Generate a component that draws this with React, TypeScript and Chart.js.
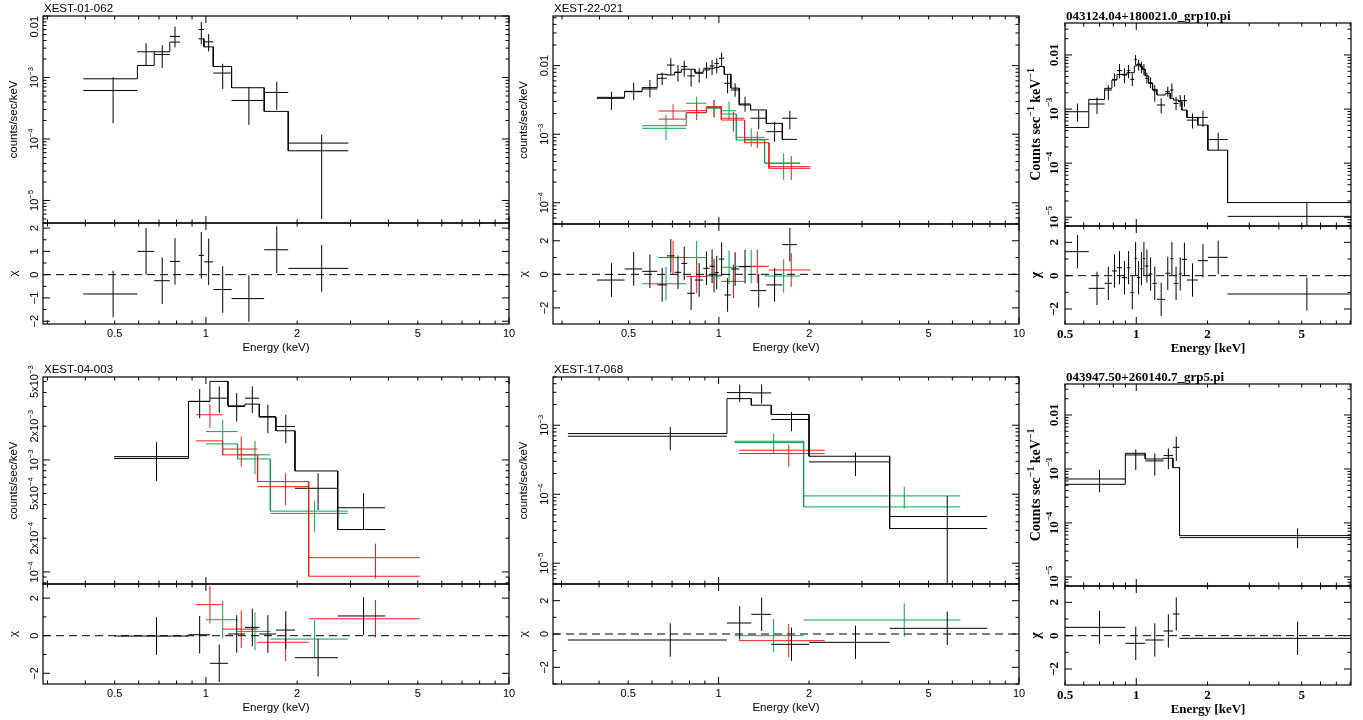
import React, { useEffect, useRef } from 'react';
import { Chart, registerables } from 'chart.js';
Chart.register(...registerables);

const BLACK = '#000000';
const RED = '#ee1c1c';
const GREEN = '#00a651';
const SANS = "'Liberation Sans', Arial, sans-serif";
const SERIF = "'Liberation Serif', 'Times New Roman', serif";

// ===== Panel 1: XEST-01-062 =====
const p1Lo = [0.394, 0.594, 0.675, 0.760, 0.946, 0.985, 1.057, 1.215, 1.557, 1.869];
const p1Hi = [0.594, 0.675, 0.760, 0.821, 0.985, 1.057, 1.215, 1.557, 1.869, 2.95];
const p1Y = [6.15e-4, 2.62e-3, 2.37e-3, 4.65e-3, 6.04e-3, 3.80e-3, 1.18e-3, 4.23e-4, 5.71e-4, 8.57e-5];
const p1YHi = [1.01e-3, 3.62e-3, 3.36e-3, 6.76e-3, 8.05e-3, 5.07e-3, 1.67e-3, 6.97e-4, 8.61e-4, 1.17e-4];
const p1YLo = [1.81e-4, 1.57e-3, 1.42e-3, 3.08e-3, 3.49e-3, 2.65e-3, 6.47e-4, 1.70e-4, 2.99e-4, 4.98e-6];
const p1Model = [9.52e-4, 1.57e-3, 2.62e-3, 3.76e-3, 4.26e-3, 3.15e-3, 1.51e-3, 6.81e-4, 2.81e-4, 6.43e-5];
const p1Res = [-0.83, 1.0, -0.26, 0.57, 0.83, 0.55, -0.64, -1.03, 1.07, 0.27];

// ===== Panel 2: XEST-22-021 =====
const p2BLo = [0.392, 0.485, 0.555, 0.623, 0.671, 0.712, 0.749, 0.784, 0.832, 0.887, 0.931, 0.967, 1.0, 1.042, 1.096, 1.169, 1.275, 1.439, 1.627];
const p2BHi = [0.485, 0.555, 0.623, 0.671, 0.712, 0.749, 0.784, 0.832, 0.887, 0.931, 0.967, 1.0, 1.042, 1.096, 1.169, 1.275, 1.439, 1.627, 1.820];
const p2BY = [3.34e-3, 4.17e-3, 4.57e-3, 6.54e-3, 1.02e-2, 8.0e-3, 9.7e-3, 7.08e-3, 7.74e-3, 9.16e-3, 9.9e-3, 1.08e-2, 1.28e-2, 5.53e-3, 4.42e-3, 2.76e-3, 1.71e-3, 1.09e-3, 1.71e-3];
const p2BYHi = [4.17e-3, 5.65e-3, 6.18e-3, 7.91e-3, 1.28e-2, 1.02e-2, 1.18e-2, 8.86e-3, 9.16e-3, 1.11e-2, 1.21e-2, 1.28e-2, 1.55e-2, 7.31e-3, 5.53e-3, 3.52e-3, 2.20e-3, 1.52e-3, 2.19e-3];
const p2BYLo = [2.26e-3, 3.15e-3, 3.45e-3, 5.22e-3, 7.31e-3, 5.84e-3, 6.92e-3, 4.93e-3, 5.65e-3, 6.54e-3, 7.31e-3, 7.74e-3, 9.9e-3, 3.95e-3, 3.52e-3, 2.13e-3, 1.18e-3, 7.78e-4, 1.18e-3];
const p2BModel = [3.45e-3, 4.22e-3, 4.78e-3, 7.48e-3, 7.31e-3, 8.0e-3, 8.86e-3, 8.86e-3, 8.0e-3, 8.66e-3, 9.16e-3, 9.36e-3, 9.7e-3, 7.48e-3, 4.7e-3, 2.67e-3, 2.26e-3, 1.44e-3, 8.41e-4];
const p2BRes = [-0.34, 0.32, 0.18, -0.63, 1.1, 0.12, 0.65, -1.13, -0.34, 0.36, 0.48, 0.1, 0.91, -1.23, 0.32, 0.46, -0.97, -0.63, 1.77];
const p2RLo = [0.629, 0.778, 0.908, 1.019, 1.218, 1.468];
const p2RHi = [0.778, 0.908, 1.019, 1.218, 1.468, 2.017];
const p2RY = [2.18e-3, 2.2e-3, 2.47e-3, 1.71e-3, 8.41e-4, 3.36e-4];
const p2RYHi = [2.73e-3, 2.9e-3, 3.15e-3, 2.13e-3, 1.09e-3, 4.81e-4];
const p2RYLo = [1.65e-3, 1.6e-3, 1.76e-3, 1.09e-3, 6.22e-4, 2.14e-4];
const p2RModel = [1.66e-3, 2.06e-3, 2.52e-3, 1.61e-3, 7.51e-4, 3.18e-4];
const p2RRes = [1.0, -0.12, -0.05, -0.42, 0.48, 0.26];
const p2GLo = [0.555, 0.778, 0.908, 1.019, 1.143, 1.420];
const p2GHi = [0.778, 0.908, 1.019, 1.143, 1.420, 1.867];
const p2GY = [1.22e-3, 2.83e-3, 2.47e-3, 2.20e-3, 9.0e-4, 3.76e-4];
const p2GYHi = [1.91e-3, 3.53e-3, 3.15e-3, 2.99e-3, 1.22e-3, 5.26e-4];
const p2GYLo = [8.22e-4, 2.02e-3, 1.76e-3, 1.61e-3, 6.58e-4, 2.14e-4];
const p2GModel = [1.33e-3, 2.06e-3, 2.39e-3, 1.97e-3, 8.22e-4, 3.80e-4];
const p2GRes = [-0.56, 1.0, -0.1, 0.42, 0.46, -0.1];

// ===== Panel 3: 043124.04+180021.0_grp10.pi =====
const p3Lo = [0.5, 0.630, 0.735, 0.789, 0.829, 0.870, 0.913, 0.943, 0.981, 1.006, 1.040, 1.063, 1.091, 1.127, 1.172, 1.222, 1.326, 1.391, 1.437, 1.508, 1.558, 1.636, 1.820, 2.006, 2.43];
const p3Hi = [0.630, 0.735, 0.789, 0.829, 0.870, 0.913, 0.943, 0.981, 1.006, 1.040, 1.063, 1.091, 1.127, 1.172, 1.222, 1.326, 1.391, 1.437, 1.508, 1.558, 1.636, 1.820, 2.006, 2.43, 8.08];
const p3Y = [8.93e-4, 1.24e-3, 2.25e-3, 3.54e-3, 5.13e-3, 4.38e-3, 5.13e-3, 3.54e-3, 8.3e-3, 6.53e-3, 6.08e-3, 5.43e-3, 3.70e-3, 3.07e-3, 2.19e-3, 1.19e-3, 2.10e-3, 2.25e-3, 1.27e-3, 1.43e-3, 1.43e-3, 6.25e-4, 7.01e-4, 2.74e-4, 1.04e-5];
const p3YHi = [1.27e-3, 1.64e-3, 2.78e-3, 4.57e-3, 6.81e-3, 5.67e-3, 6.53e-3, 4.57e-3, 1.0e-2, 8.08e-3, 7.53e-3, 6.81e-3, 4.71e-3, 3.85e-3, 2.78e-3, 1.58e-3, 2.59e-3, 2.99e-3, 1.69e-3, 1.82e-3, 1.82e-3, 8.32e-4, 9.31e-4, 3.65e-4, 1.87e-5];
const p3YLo = [5.82e-4, 8.08e-4, 1.47e-3, 2.59e-3, 3.70e-3, 2.99e-3, 3.70e-3, 2.67e-3, 6.53e-3, 5.13e-3, 4.57e-3, 4.26e-3, 2.99e-3, 2.42e-3, 1.37e-3, 8.32e-4, 1.69e-3, 1.64e-3, 9.58e-4, 1.10e-3, 1.10e-3, 4.38e-4, 4.71e-4, 1.74e-4, 3e-6];
const p3Model = [4.57e-4, 1.51e-3, 2.42e-3, 3.44e-3, 4.38e-3, 4.26e-3, 4.71e-3, 4.71e-3, 6.26e-3, 6.81e-3, 6.08e-3, 5.43e-3, 4.09e-3, 2.99e-3, 2.31e-3, 1.82e-3, 1.95e-3, 1.58e-3, 1.47e-3, 1.37e-3, 9.58e-4, 7.01e-4, 5.06e-4, 1.74e-4, 1.87e-5];
const p3Res = [1.44, -0.76, -0.46, 0.28, 0.48, -0.12, 0.48, -1.02, 1.02, -0.12, 0.42, 1.02, 0.58, 0.1, -0.46, -1.42, 0.14, 1.02, -0.46, 0.1, 0.98, -0.26, 0.9, 1.1, -1.1];

// ===== Panel 4: XEST-04-003 =====
const p4BLo = [0.498, 0.876, 1.031, 1.182, 1.345, 1.500, 1.702, 1.967, 2.722];
const p4BHi = [0.876, 1.031, 1.182, 1.345, 1.500, 1.702, 1.967, 2.722, 3.902];
const p4BY = [1.07e-3, 3.33e-3, 3.56e-3, 3.0e-3, 3.56e-3, 2.44e-3, 1.99e-3, 5.58e-4, 3.74e-4];
const p4BYHi = [1.44e-3, 4.29e-3, 4.53e-3, 3.95e-3, 4.53e-3, 3.11e-3, 2.53e-3, 7.60e-4, 5.03e-4];
const p4BYLo = [6.49e-4, 2.36e-3, 2.62e-3, 2.20e-3, 2.62e-3, 1.73e-3, 1.41e-3, 3.57e-4, 2.41e-4];
const p4BModel = [1.03e-3, 3.33e-3, 5.03e-3, 3.04e-3, 3.15e-3, 2.41e-3, 1.82e-3, 7.97e-4, 2.39e-4];
const p4BRes = [-0.02, 0.05, -1.47, 0.09, 0.44, 0.09, 0.3, -1.17, 1.05];
const p4RLo = [0.927, 1.135, 1.481, 2.183];
const p4RHi = [1.135, 1.481, 2.183, 5.07];
const p4RY = [2.53e-3, 1.25e-3, 5.77e-4, 1.34e-4];
const p4RYHi = [3.15e-3, 1.62e-3, 7.60e-4, 1.79e-4];
const p4RYLo = [1.92e-3, 8.71e-4, 3.95e-4, 8.72e-5];
const p4RModel = [1.48e-3, 1.11e-3, 6.40e-4, 9.15e-5];
const p4RRes = [1.65, 0.35, -0.35, 0.9];
const p4GLo = [1.0, 1.272, 1.631];
const p4GHi = [1.272, 1.631, 2.937];
const p4GY = [1.79e-3, 1.11e-3, 3.33e-4];
const p4GYHi = [2.28e-3, 1.48e-3, 4.30e-4];
const p4GYLo = [1.41e-3, 7.44e-4, 2.28e-4];
const p4GModel = [1.39e-3, 1.02e-3, 3.49e-4];
const p4GRes = [0.85, 0.23, -0.18];

// ===== Panel 5: XEST-17-068 =====
const p5BLo = [0.315, 1.066, 1.285, 1.497, 2.0, 3.71];
const p5BHi = [1.066, 1.285, 1.497, 2.0, 3.71, 7.83];
const p5BY = [6.93e-4, 2.97e-3, 2.94e-3, 1.21e-3, 2.94e-4, 4.75e-5];
const p5BYHi = [9.46e-4, 3.88e-3, 3.88e-3, 1.56e-3, 4.02e-4, 9.4e-5];
const p5BYLo = [4.34e-4, 2.18e-3, 2.06e-3, 8.19e-4, 1.84e-4, 1e-6];
const p5BModel = [7.57e-4, 2.43e-3, 1.95e-3, 1.43e-3, 3.55e-4, 3.18e-5];
const p5BRes = [-0.36, 0.66, 1.18, -0.62, -0.5, 0.34];
const p5RLo = [1.169];
const p5RHi = [2.254];
const p5RY = [3.88e-4];
const p5RYHi = [5.24e-4];
const p5RYLo = [2.49e-4];
const p5RModel = [4.34e-4];
const p5RRes = [-0.4];
const p5GLo = [1.130, 1.919];
const p5GHi = [1.919, 6.38];
const p5GY = [5.61e-4, 9.46e-5];
const p5GYHi = [7.57e-4, 1.28e-4];
const p5GYLo = [3.88e-4, 6.2e-5];
const p5GModel = [5.86e-4, 6.55e-5];
const p5GRes = [-0.1, 0.84];

// ===== Panel 6: 043947.50+260140.7_grp5.pi =====
const p6Lo = [0.5, 0.899, 1.091, 1.304, 1.428, 1.523];
const p6Hi = [0.899, 1.091, 1.304, 1.428, 1.523, 8.08];
const p6Y = [6.53e-4, 1.82e-3, 1.41e-3, 1.77e-3, 2.52e-3, 5.35e-5];
const p6YHi = [9.58e-4, 2.31e-3, 1.95e-3, 2.41e-3, 3.97e-3, 7.96e-5];
const p6YLo = [3.70e-4, 9.58e-4, 7.52e-4, 9.86e-4, 1.41e-3, 3.40e-5];
const p6Model = [5.20e-4, 1.95e-3, 1.53e-3, 1.58e-3, 1.06e-3, 5.83e-5];
const p6Res = [0.5, -0.46, -0.26, 0.28, 1.3, -0.16];

// ===== Tick labels =====
const yTicks4 = [1e-5, 1e-4, 1e-3, 1e-2];
const yLabels4 = ['10^{−5}', '10^{−4}', '10^{−3}', '0.01'];
const yTicksP2 = [1e-4, 1e-3, 1e-2];
const yLabelsP2 = ['10^{−4}', '10^{−3}', '0.01'];
const yTicksP4 = [1e-4, 2e-4, 5e-4, 1e-3, 2e-3, 5e-3];
const yLabelsP4 = ['10^{−4}', '2x10^{−4}', '5x10^{−4}', '10^{−3}', '2x10^{−3}', '5x10^{−3}'];
const yTicksP5 = [1e-5, 1e-4, 1e-3];
const yLabelsP5 = ['10^{−5}', '10^{−4}', '10^{−3}'];
const resTicks1 = [-2, -1, 0, 1, 2];
const resLabels1 = ['−2', '−1', '0', '1', '2'];
const resTicks2 = [-2, 0, 2];
const resLabels2 = ['−2', '0', '2'];
const xTicksWide = [0.5, 1, 2, 5, 10];
const xLabelsWide = ['0.5', '1', '2', '5', '10'];
const xTicksNarrow = [0.5, 1, 2, 5];
const xLabelsNarrow = ['0.5', '1', '2', '5'];

type Series = { lo: number[]; hi: number[]; y: number[]; yLo: number[]; yHi: number[]; model: number[]; res: number[]; color: string };
type Panel = {
  title: string; serif: boolean;
  l: number; t: number; mid: number; r: number; b: number;
  xMin: number; xMax: number; yMin: number; yMax: number; rMin: number; rMax: number;
  yTicks: number[]; yLabels: string[];
  rTicks: number[]; rLabels: string[]; rMinor: number;
  xTicks: number[]; xLabels: string[];
  yTitle: string; xTitle: string;
  series: Series[];
};

const S = (lo: number[], hi: number[], y: number[], yLo: number[], yHi: number[], model: number[], res: number[], color: string): Series =>
  ({ lo, hi, y, yLo, yHi, model, res, color });

const PANELS: Panel[] = [
  {
    title: 'XEST-01-062', serif: false, l: 43, t: 16, mid: 223, r: 509, b: 324,
    xMin: 0.29, xMax: 10, yMin: 4.3e-6, yMax: 0.01, rMin: -2.12, rMax: 2.22,
    yTicks: yTicks4, yLabels: yLabels4, rTicks: resTicks1, rLabels: resLabels1, rMinor: 0.5,
    xTicks: xTicksWide, xLabels: xLabelsWide, yTitle: 'counts/sec/keV', xTitle: 'Energy (keV)',
    series: [S(p1Lo, p1Hi, p1Y, p1YLo, p1YHi, p1Model, p1Res, BLACK)],
  },
  {
    title: 'XEST-22-021', serif: false, l: 553, t: 16, mid: 224, r: 1019, b: 324,
    xMin: 0.28, xMax: 10, yMin: 4.9e-5, yMax: 0.053, rMin: -2.96, rMax: 3.0,
    yTicks: yTicksP2, yLabels: yLabelsP2, rTicks: resTicks2, rLabels: resLabels2, rMinor: 1,
    xTicks: xTicksWide, xLabels: xLabelsWide, yTitle: 'counts/sec/keV', xTitle: 'Energy (keV)',
    series: [
      S(p2BLo, p2BHi, p2BY, p2BYLo, p2BYHi, p2BModel, p2BRes, BLACK),
      S(p2RLo, p2RHi, p2RY, p2RYLo, p2RYHi, p2RModel, p2RRes, RED),
      S(p2GLo, p2GHi, p2GY, p2GYLo, p2GYHi, p2GModel, p2GRes, GREEN),
    ],
  },
  {
    title: '043124.04+180021.0_grp10.pi', serif: true, l: 1065, t: 23, mid: 226, r: 1351, b: 324,
    xMin: 0.5, xMax: 8.07, yMin: 6.9e-6, yMax: 0.039, rMin: -2.9, rMax: 2.98,
    yTicks: yTicks4, yLabels: yLabels4, rTicks: resTicks2, rLabels: resLabels2, rMinor: 1,
    xTicks: xTicksNarrow, xLabels: xLabelsNarrow, yTitle: 'Counts sec^{−1} keV^{−1}', xTitle: 'Energy [keV]',
    series: [S(p3Lo, p3Hi, p3Y, p3YLo, p3YHi, p3Model, p3Res, BLACK)],
  },
  {
    title: 'XEST-04-003', serif: false, l: 43, t: 377, mid: 584, r: 509, b: 684,
    xMin: 0.29, xMax: 10, yMin: 7.8e-5, yMax: 5.5e-3, rMin: -2.57, rMax: 2.75,
    yTicks: yTicksP4, yLabels: yLabelsP4, rTicks: resTicks2, rLabels: resLabels2, rMinor: 1,
    xTicks: xTicksWide, xLabels: xLabelsWide, yTitle: 'counts/sec/keV', xTitle: 'Energy (keV)',
    series: [
      S(p4BLo, p4BHi, p4BY, p4BYLo, p4BYHi, p4BModel, p4BRes, BLACK),
      S(p4RLo, p4RHi, p4RY, p4RYLo, p4RYHi, p4RModel, p4RRes, RED),
      S(p4GLo, p4GHi, p4GY, p4GYLo, p4GYHi, p4GModel, p4GRes, GREEN),
    ],
  },
  {
    title: 'XEST-17-068', serif: false, l: 553, t: 377, mid: 584, r: 1019, b: 684,
    xMin: 0.281, xMax: 10, yMin: 5e-6, yMax: 5e-3, rMin: -3.0, rMax: 3.0,
    yTicks: yTicksP5, yLabels: yLabelsP5, rTicks: resTicks2, rLabels: resLabels2, rMinor: 1,
    xTicks: xTicksWide, xLabels: xLabelsWide, yTitle: 'counts/sec/keV', xTitle: 'Energy (keV)',
    series: [
      S(p5BLo, p5BHi, p5BY, p5BYLo, p5BYHi, p5BModel, p5BRes, BLACK),
      S(p5RLo, p5RHi, p5RY, p5RYLo, p5RYHi, p5RModel, p5RRes, RED),
      S(p5GLo, p5GHi, p5GY, p5GYLo, p5GYHi, p5GModel, p5GRes, GREEN),
    ],
  },
  {
    title: '043947.50+260140.7_grp5.pi', serif: true, l: 1065, t: 384, mid: 586, r: 1351, b: 685,
    xMin: 0.5, xMax: 8.07, yMin: 6.8e-6, yMax: 0.0375, rMin: -2.96, rMax: 2.98,
    yTicks: yTicks4, yLabels: yLabels4, rTicks: resTicks2, rLabels: resLabels2, rMinor: 1,
    xTicks: xTicksNarrow, xLabels: xLabelsNarrow, yTitle: 'Counts sec^{−1} keV^{−1}', xTitle: 'Energy [keV]',
    series: [S(p6Lo, p6Hi, p6Y, p6YLo, p6YHi, p6Model, p6Res, BLACK)],
  },
];

// ===== helpers =====
type Pt = { x: number; y: number | null };
function crossPoints(lo: number[], hi: number[], yc: number[], yl: number[], yh: number[]): Pt[] {
  const pts: Pt[] = [];
  for (let i = 0; i < lo.length; i++) {
    const xc = (lo[i] + hi[i]) / 2;
    pts.push({ x: lo[i], y: yc[i] }, { x: hi[i], y: yc[i] }, { x: hi[i], y: null });
    pts.push({ x: xc, y: yl[i] }, { x: xc, y: yh[i] }, { x: xc, y: null });
  }
  return pts;
}
function stepPoints(lo: number[], hi: number[], m: number[]): Pt[] {
  const pts: Pt[] = [];
  for (let i = 0; i < lo.length; i++) {
    pts.push({ x: lo[i], y: m[i] }, { x: hi[i], y: m[i] });
    if (i + 1 < lo.length && Math.abs(lo[i + 1] - hi[i]) > 1e-9) pts.push({ x: hi[i], y: null });
  }
  return pts;
}
function logTicks(min: number, max: number) {
  const out: { v: number; major: boolean }[] = [];
  for (let e = Math.floor(Math.log10(min)); e <= Math.ceil(Math.log10(max)); e++) {
    for (let m = 1; m <= 9; m++) {
      const v = m * Math.pow(10, e);
      if (v >= min * 0.999 && v <= max * 1.001) out.push({ v, major: m === 1 });
    }
  }
  return out;
}
function linTicks(min: number, max: number, step: number, majors: number[]) {
  const out: { v: number; major: boolean }[] = [];
  for (let v = Math.ceil(min / step) * step; v <= max + 1e-9; v += step) {
    out.push({ v, major: majors.some((m) => Math.abs(m - v) < 1e-6) });
  }
  return out;
}
function parseRich(s: string) {
  const out: { t: string; sup: boolean }[] = [];
  const re = /\^\{([^}]*)\}/g;
  let last = 0;
  let m: RegExpExecArray | null;
  while ((m = re.exec(s))) {
    if (m.index > last) out.push({ t: s.slice(last, m.index), sup: false });
    out.push({ t: m[1], sup: true });
    last = re.lastIndex;
  }
  if (last < s.length) out.push({ t: s.slice(last), sup: false });
  return out;
}
function fontOf(size: number, fam: string, wt: string) {
  return `${wt} ${size}px ${fam}`;
}
function measureRich(ctx: CanvasRenderingContext2D, s: string, size: number, fam: string, wt: string) {
  let w = 0;
  for (const seg of parseRich(s)) {
    ctx.font = fontOf(seg.sup ? size * 0.7 : size, fam, wt);
    w += ctx.measureText(seg.t).width;
  }
  return w;
}
function drawRich(ctx: CanvasRenderingContext2D, s: string, x: number, y: number, size: number, fam: string, wt: string,
  align: 'left' | 'center', baseline: 'middle' | 'alphabetic') {
  const w = measureRich(ctx, s, size, fam, wt);
  let cx = align === 'center' ? x - w / 2 : x;
  const by = baseline === 'middle' ? y + size * 0.36 : y;
  ctx.textAlign = 'left';
  ctx.textBaseline = 'alphabetic';
  for (const seg of parseRich(s)) {
    ctx.font = fontOf(seg.sup ? size * 0.7 : size, fam, wt);
    ctx.fillText(seg.t, cx, seg.sup ? by - size * 0.45 : by);
    cx += ctx.measureText(seg.t).width;
  }
}

function makeFramePlugin(p: Panel, kind: 'spec' | 'res') {
  return {
    id: 'frame_' + kind,
    afterDatasetsDraw(chart: any) {
      const ctx = chart.ctx as CanvasRenderingContext2D;
      const { left, right, top, bottom } = chart.chartArea;
      const xs = chart.scales.x;
      const ys = chart.scales.y;
      const fam = p.serif ? SERIF : SANS;
      const wt = p.serif ? 'bold' : 'normal';
      const tickSize = p.serif ? 13 : 11;
      const ttlSize = p.serif ? 13 : 11.5;
      const yTtlSize = p.serif ? 14 : 11.5;
      ctx.save();
      ctx.setLineDash([]);
      ctx.strokeStyle = '#000';
      ctx.fillStyle = '#000';
      ctx.lineWidth = 1;
      const MAJ = 7, MIN = 3.5;
      ctx.beginPath();
      for (const tk of logTicks(p.xMin, p.xMax)) {
        const px = xs.getPixelForValue(tk.v);
        if (px < left - 0.5 || px > right + 0.5) continue;
        const len = tk.major ? MAJ : MIN;
        ctx.moveTo(px, bottom); ctx.lineTo(px, bottom - len);
        ctx.moveTo(px, top); ctx.lineTo(px, top + len);
      }
      const yt = kind === 'spec' ? logTicks(p.yMin, p.yMax) : linTicks(p.rMin, p.rMax, p.rMinor, p.rTicks);
      for (const tk of yt) {
        const py = ys.getPixelForValue(tk.v);
        if (py < top - 0.5 || py > bottom + 0.5) continue;
        const len = tk.major ? MAJ : MIN;
        ctx.moveTo(left, py); ctx.lineTo(left + len, py);
        ctx.moveTo(right, py); ctx.lineTo(right - len, py);
      }
      ctx.stroke();
      ctx.lineWidth = 1.2;
      ctx.strokeRect(left, top, right - left, bottom - top);

      // y tick labels (rotated)
      const gap = p.serif ? 7 : 5.5;
      const vals = kind === 'spec' ? p.yTicks : p.rTicks;
      const labs = kind === 'spec' ? p.yLabels : p.rLabels;
      vals.forEach((v, i) => {
        let py = ys.getPixelForValue(v);
        const w = measureRich(ctx, labs[i], tickSize, fam, wt);
        if (py <= top + 1) py = top + w / 2;
        ctx.save();
        ctx.translate(left - gap, py);
        ctx.rotate(-Math.PI / 2);
        drawRich(ctx, labs[i], 0, 0, tickSize, fam, wt, 'center', 'alphabetic');
        ctx.restore();
      });

      // y axis title
      ctx.save();
      ctx.translate(left - 30, (top + bottom) / 2);
      ctx.rotate(-Math.PI / 2);
      drawRich(ctx, kind === 'spec' ? p.yTitle : 'χ', 0, 0, yTtlSize, fam, wt, 'center', 'middle');
      ctx.restore();

      if (kind === 'spec') {
        drawRich(ctx, p.title, left + 1, top - 8, ttlSize, fam, wt, 'left', 'middle');
      } else {
        p.xTicks.forEach((v, i) => {
          const px = xs.getPixelForValue(v);
          drawRich(ctx, p.xLabels[i], px, bottom + 9, tickSize, fam, wt, 'center', 'middle');
        });
        drawRich(ctx, p.xTitle, (left + right) / 2, bottom + 23, ttlSize, fam, wt, 'center', 'middle');
      }
      ctx.restore();
    },
  };
}

const PL = 50, PR = 12;

function buildConfig(p: Panel, kind: 'spec' | 'res'): any {
  const datasets: any[] = [];
  const base = { showLine: true, pointRadius: 0, borderWidth: 1, spanGaps: false, fill: false };
  if (kind === 'spec') {
    for (const s of p.series) {
      datasets.push({ ...base, data: crossPoints(s.lo, s.hi, s.y, s.yLo, s.yHi), borderColor: s.color });
      datasets.push({ ...base, data: stepPoints(s.lo, s.hi, s.model), borderColor: s.color });
    }
  } else {
    datasets.push({ ...base, data: [{ x: p.xMin, y: 0 }, { x: p.xMax, y: 0 }], borderColor: '#000', borderDash: [8, 5] });
    for (const s of p.series) {
      const lo = s.res.map((r) => r - 1);
      const hi = s.res.map((r) => r + 1);
      datasets.push({ ...base, data: crossPoints(s.lo, s.hi, s.res, lo, hi), borderColor: s.color });
    }
  }
  const padding = kind === 'spec'
    ? { left: PL, right: PR, top: 24, bottom: 3 }
    : { left: PL, right: PR, top: 3, bottom: 40 };
  return {
    type: 'scatter',
    data: { datasets },
    options: {
      responsive: false,
      animation: false,
      events: [],
      layout: { padding },
      plugins: { legend: { display: false }, tooltip: { enabled: false }, title: { display: false } },
      elements: { point: { radius: 0 }, line: { tension: 0 } },
      scales: {
        x: { type: 'logarithmic', min: p.xMin, max: p.xMax, display: false },
        y: kind === 'spec'
          ? { type: 'logarithmic', min: p.yMin, max: p.yMax, display: false }
          : { type: 'linear', min: p.rMin, max: p.rMax, display: false },
      },
    },
    plugins: [makeFramePlugin(p, kind)],
  };
}

function SubChart({ p, kind }: { p: Panel; kind: 'spec' | 'res' }) {
  const ref = useRef<HTMLCanvasElement>(null);
  const w = (p.r - p.l) + PL + PR;
  const h = kind === 'spec' ? (p.mid - p.t) + 24 + 3 : (p.b - p.mid) + 3 + 40;
  const x = p.l - PL;
  const y = kind === 'spec' ? p.t - 24 : p.mid - 3;
  useEffect(() => {
    const chart = new Chart(ref.current as HTMLCanvasElement, buildConfig(p, kind));
    return () => chart.destroy();
  }, [p, kind]);
  return (
    <canvas ref={ref} width={w} height={h}
      style={{ position: 'absolute', left: x, top: y, width: w, height: h }} />
  );
}

export default function App() {
  return (
    <div style={{ position: 'absolute', left: 0, top: 0, width: 1363, height: 720, background: '#fff', overflow: 'hidden' }}>
      {PANELS.map((p, i) => (
        <React.Fragment key={i}>
          <SubChart p={p} kind="spec" />
          <SubChart p={p} kind="res" />
        </React.Fragment>
      ))}
    </div>
  );
}
